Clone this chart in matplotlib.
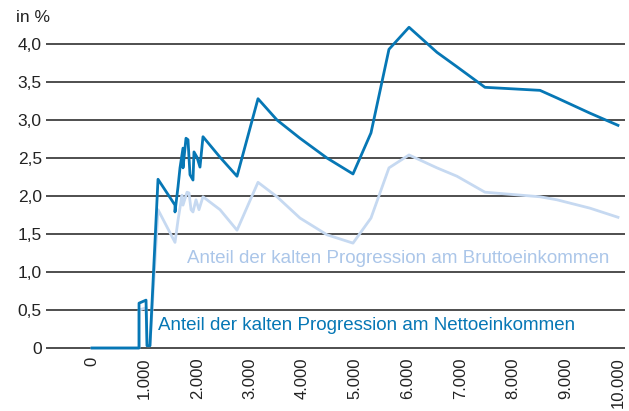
import matplotlib.pyplot as plt

plt.rcParams['font.family'] = ['Liberation Sans', 'DejaVu Sans']

# Einkommen (x) und Anteil in % (y)
netto_x = [0, 894, 894, 1027, 1046, 1102, 1255, 1578, 1578, 1635, 1673, 1730, 1730,
           1787, 1825, 1863, 1920, 1939, 1996, 2053, 2110, 2434, 2757, 3156, 3517,
           3954, 4467, 4962, 5304, 5646, 6027, 6559, 6939, 7471, 8517, 8840, 9467, 10000]
netto_y = [0, 0, 0.59, 0.63, 0.03, 0.03, 2.22, 1.88, 1.79, 2.12, 2.37, 2.63, 2.37,
           2.76, 2.74, 2.28, 2.21, 2.58, 2.51, 2.38, 2.78, 2.51, 2.26, 3.28, 3.00,
           2.76, 2.50, 2.29, 2.83, 3.93, 4.22, 3.89, 3.70, 3.43, 3.39, 3.29, 3.09, 2.93]

brutto_x = [0, 894, 894, 1027, 1046, 1102, 1255, 1578, 1635, 1711, 1730, 1806, 1844,
            1883, 1920, 1977, 2034, 2110, 2434, 2757, 3156, 3517, 3954, 4467, 4962,
            5304, 5646, 6027, 6559, 6939, 7471, 8517, 8840, 9467, 10000]
brutto_y = [0, 0, 0.5, 0.53, 0.03, 0.03, 1.82, 1.39, 1.68, 2.01, 1.88, 2.05, 2.04,
            1.82, 1.79, 1.95, 1.82, 1.99, 1.82, 1.55, 2.18, 1.99, 1.71, 1.49, 1.38,
            1.71, 2.37, 2.54, 2.37, 2.26, 2.05, 1.99, 1.95, 1.84, 1.72]

x_ticks = [0, 1000, 2000, 3000, 4000, 5000, 6000, 7000, 8000, 9000, 10000]
x_labels = ['0', '1.000', '2.000', '3.000', '4.000', '5.000', '6.000',
            '7.000', '8.000', '9.000', '10.000']
y_ticks = [0, 0.5, 1.0, 1.5, 2.0, 2.5, 3.0, 3.5, 4.0]
y_labels = ['0', '0,5', '1,0', '1,5', '2,0', '2,5', '3,0', '3,5', '4,0']

dark = '#0677b5'
light = '#c6d9f1'

fig = plt.figure(figsize=(6.29, 4.11), dpi=100)
ax = fig.add_axes([0.0731, 0.1477, 0.9205, 0.81])

for v in y_ticks:
    ax.axhline(v, color='#1e1e1e', linewidth=1.1, zorder=1)

ax.plot(brutto_x, brutto_y, color=light, linewidth=2.0, zorder=2)
ax.plot(netto_x, netto_y, color=dark, linewidth=2.0, zorder=3)

ax.text(1806, 1.18, 'Anteil der kalten Progression am Bruttoeinkommen',
        color='#abc6e9', fontsize=13.5, va='center', ha='left')
ax.text(1255, 0.30, 'Anteil der kalten Progression am Nettoeinkommen',
        color=dark, fontsize=13.5, va='center', ha='left')

ax.set_xlim(-875, 10133)
ax.set_ylim(-0.03, 4.35)
ax.set_xticks(x_ticks)
ax.set_xticklabels(x_labels, rotation=90, fontsize=12)
ax.set_yticks(y_ticks)
ax.set_yticklabels(y_labels, fontsize=12.5)
ax.tick_params(axis='both', length=0, colors='#222222')
ax.tick_params(axis='x', pad=5)
ax.tick_params(axis='y', pad=3)
for s in ax.spines.values():
    s.set_visible(False)

fig.text(16 / 629, 1 - 18 / 411, 'in %', fontsize=12.5, ha='left', va='center',
         color='#222222')

fig.savefig('out.png', dpi=100)
